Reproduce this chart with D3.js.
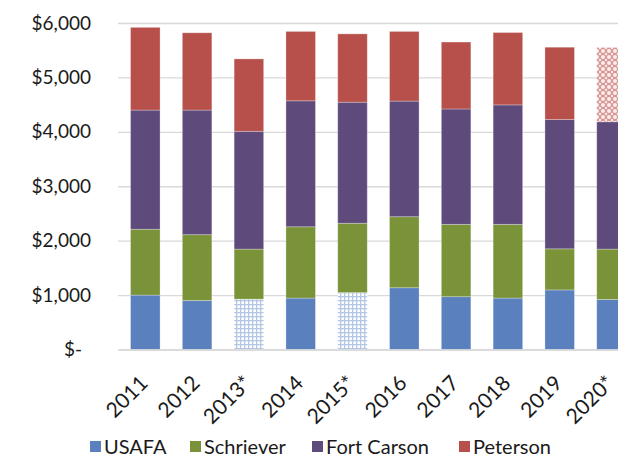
<!DOCTYPE html>
<html>
<head>
<meta charset="utf-8">
<script src="https://cdn.jsdelivr.net/npm/d3@7"></script>
<style>
  body { margin: 0; background: #fff; }
  svg text { font-family: Lato, "Open Sans", sans-serif; fill: #1a1a1a; }
</style>
</head>
<body>
<div id="chart-area"></div>
<script>
var years = ["2011", "2012", "2013*", "2014", "2015*", "2016", "2017", "2018", "2019", "2020*"]
var seriesNames = ["USAFA", "Schriever", "Fort Carson", "Peterson"]
var usafa = [1000, 900, 925, 945, 1045, 1135, 970, 945, 1095, 920]
var schriever = [1210, 1210, 920, 1310, 1275, 1305, 1330, 1355, 755, 925]
var fortCarson = [2190, 2290, 2165, 2315, 2225, 2125, 2120, 2195, 2375, 2340]
var peterson = [1520, 1420, 1330, 1275, 1255, 1280, 1230, 1330, 1330, 1365]
var yTicks = [0, 1000, 2000, 3000, 4000, 5000, 6000]
// segments drawn with a pattern instead of solid fill (estimated years)
var patterned = [["USAFA", "2013*"], ["USAFA", "2015*"], ["Peterson", "2020*"]]

var colors = ["#5a80be", "#7a9339", "#5f4b7b", "#b7504b"]

var width = 618, height = 459

var table = years.map(function(y, i){
    return { year: y, "USAFA": usafa[i], "Schriever": schriever[i], "Fort Carson": fortCarson[i], "Peterson": peterson[i] }
})
var stacked = d3.stack().keys(seriesNames)(table)

var x = d3.scaleBand()
    .domain(years)
    .range([119.4, 637.4])
    .paddingInner(0.43)
    .paddingOuter(0.215)

var y = d3.scaleLinear()
    .domain([0, 6000])
    .range([349.5, 23])

var svg = d3.select("#chart-area")
    .append("svg")
    .attr("width", width)
    .attr("height", height)

var defs = svg.append("defs")
var dots = defs.append("pattern")
    .attr("id", "pat-blue")
    .attr("patternUnits", "userSpaceOnUse")
    .attr("width", 4).attr("height", 4)
dots.append("rect").attr("width", 4).attr("height", 4).attr("fill", "#ffffff")
dots.append("rect").attr("x", 0).attr("y", 0).attr("width", 4).attr("height", 1.3).attr("fill", "#b3c6e6")
dots.append("rect").attr("x", 0).attr("y", 0).attr("width", 1.3).attr("height", 4).attr("fill", "#b3c6e6")

var hatch = defs.append("pattern")
    .attr("id", "pat-red")
    .attr("patternUnits", "userSpaceOnUse")
    .attr("width", 6).attr("height", 6)
hatch.append("rect").attr("width", 6).attr("height", 6).attr("fill", "#d99896")
hatch.append("circle").attr("cx", 3).attr("cy", 3).attr("r", 2).attr("fill", "#fbeeee")
hatch.append("circle").attr("cx", 0).attr("cy", 0).attr("r", 1.2).attr("fill", "#fbeeee")
hatch.append("circle").attr("cx", 6).attr("cy", 0).attr("r", 1.2).attr("fill", "#fbeeee")
hatch.append("circle").attr("cx", 0).attr("cy", 6).attr("r", 1.2).attr("fill", "#fbeeee")
hatch.append("circle").attr("cx", 6).attr("cy", 6).attr("r", 1.2).attr("fill", "#fbeeee")

// gridlines + y labels
var yAxisCall = d3.axisLeft(y)
    .tickValues(yTicks)
    .tickSize(-(width - 118))
    .tickPadding(27)
    .tickFormat(function(d){
        return d === 0 ? "$-" : "$" + d3.format(",")(d)
    })

var yAxis = svg.append("g")
    .attr("transform", "translate(118,0)")
    .call(yAxisCall)
yAxis.select(".domain").remove()
yAxis.selectAll(".tick line").attr("stroke", "#d9d9d9").attr("stroke-width", 1.3)
yAxis.selectAll(".tick text")
    .style("font-size", "19px")
    .attr("fill", "#1a1a1a")
    .attr("dx", function(d){ return d === 0 ? -9 : 0 })

function isPatterned(key, year){
    return patterned.some(function(p){ return p[0] === key && p[1] === year })
}

var layers = svg.append("g").selectAll("g")
    .data(stacked)
    .enter().append("g")

layers.selectAll("rect")
    .data(function(s){ return s.map(function(d){ d.key = s.key; d.idx = s.index; return d }) })
    .enter().append("rect")
    .attr("x", function(d){ return x(d.data.year) })
    .attr("width", x.bandwidth())
    .attr("y", function(d){ return y(d[1]) })
    .attr("height", function(d){ return y(d[0]) - y(d[1]) })
    .attr("fill", function(d){
        if (isPatterned(d.key, d.data.year)) return d.key === "Peterson" ? "url(#pat-red)" : "url(#pat-blue)"
        return colors[d.idx]
    })
    .attr("stroke", "#ffffff")
    .attr("stroke-opacity", 0.35)
    .attr("stroke-width", 0.8)

// x labels
var xAxisCall = d3.axisBottom(x).tickSize(0)
var xAxis = svg.append("g")
    .attr("transform", "translate(0,349.5)")
    .call(xAxisCall)
xAxis.select(".domain").attr("stroke", "#d9d9d9").attr("stroke-width", 1.3)
xAxis.selectAll(".tick text")
    .style("font-size", "21px")
    .attr("fill", "#1a1a1a")
    .attr("text-anchor", "end")
    .attr("x", 0)
    .attr("y", 0)
    .attr("dy", "0.6em")
    .attr("transform", "translate(-5,26) rotate(-45)")

// legend
var legendX = [90, 190, 312, 459]
var legend = svg.append("g").selectAll("g")
    .data(seriesNames)
    .enter().append("g")
    .attr("transform", function(d, i){ return "translate(" + legendX[i] + ",447)" })
legend.append("rect")
    .attr("x", 0).attr("y", -6)
    .attr("width", 11).attr("height", 11)
    .attr("fill", function(d, i){ return colors[i] })
legend.append("text")
    .attr("x", 14)
    .attr("y", 0)
    .attr("dy", "0.35em")
    .style("font-size", "20px")
    .text(function(d){ return d })
</script>
</body>
</html>
